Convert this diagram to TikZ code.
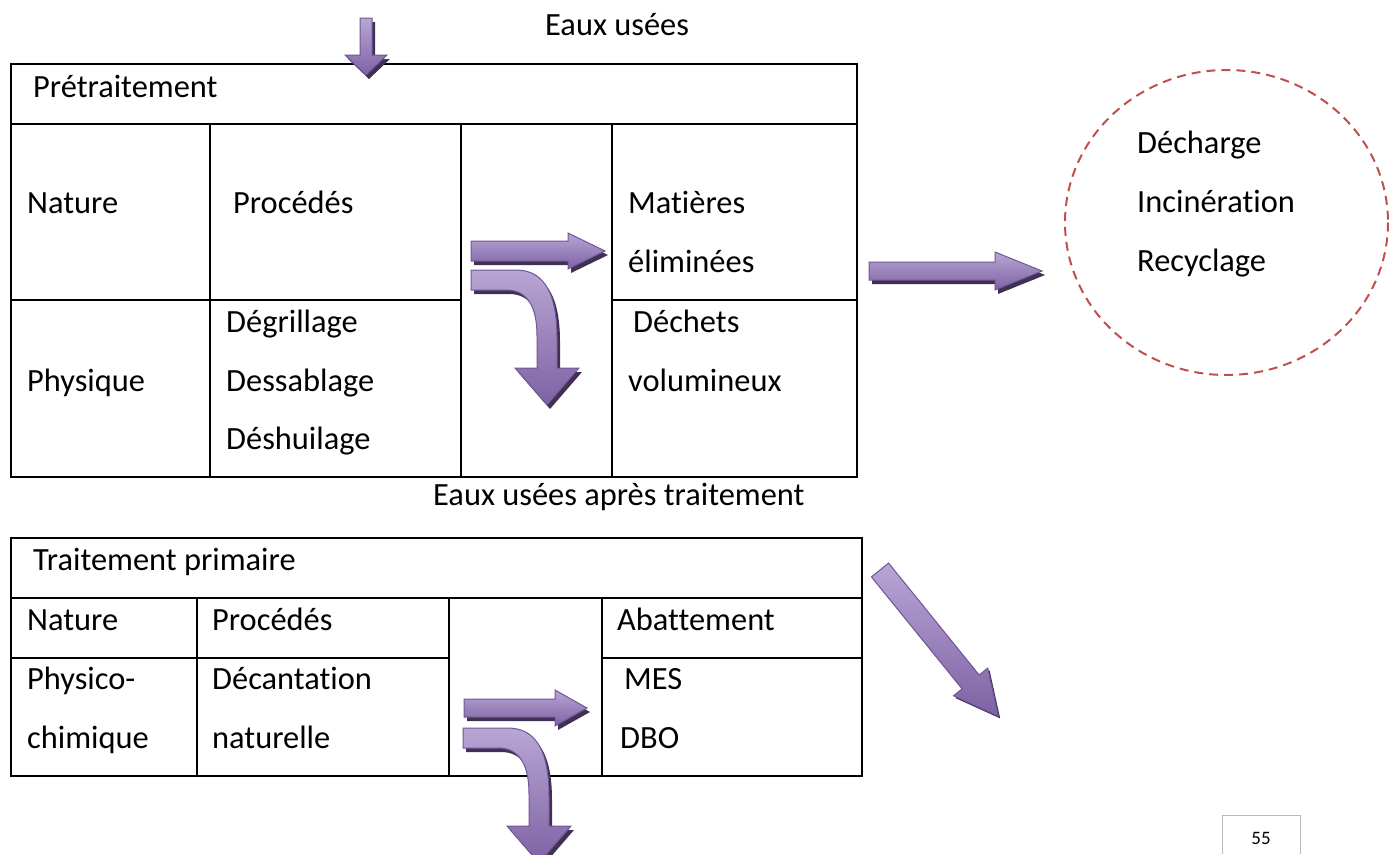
\documentclass[tikz,border=0pt]{standalone}
\usepackage{fontspec}
\setmainfont[Ligatures={NoCommon,NoRare}]{Carlito}
\usetikzlibrary{positioning}

\definecolor{violetclair}{RGB}{184,166,212}
\definecolor{violetfonce}{RGB}{126,98,164}
\definecolor{bordviolet}{RGB}{112,86,152}
\definecolor{ombreviolet}{RGB}{63,49,81}
\definecolor{rougepointille}{RGB}{192,80,77}

\begin{document}
\begin{tikzpicture}[x=1pt,y=-1pt,
    cadre/.style={line width=1.6pt},
    texte/.style={anchor=base west,inner sep=0pt,font=\fontsize{32.4}{38}\selectfont},
    corps/.style={draw=bordviolet,line width=1pt,top color=violetclair,bottom color=violetfonce},
    ombre/.style={fill=ombreviolet},
    decal/.store in=\decalombre, decal={(3,4)},
    pics/fleche/.style n args={4}{code={
      \path[ombre,shift=\decalombre] (0,-#2) -- (#1-#4,-#2) -- (#1-#4,-#3) -- (#1,0) -- (#1-#4,#3) -- (#1-#4,#2) -- (0,#2) -- cycle;
      \path[corps] (0,-#2) -- (#1-#4,-#2) -- (#1-#4,-#3) -- (#1,0) -- (#1-#4,#3) -- (#1-#4,#2) -- (0,#2) -- cycle;
    }},
    pics/coude/.style={code={
      \path[ombre,shift={(3,4)}] (0,0) -- (45,0) .. controls (74,0) and (86,25) .. (86,68) -- (86,98) -- (108,98) -- (76,135) -- (44,98) -- (66,98) -- (66,66) .. controls (66,36) and (56,20) .. (35,20) -- (0,20) -- cycle;
      \path[corps] (0,0) -- (45,0) .. controls (74,0) and (86,25) .. (86,68) -- (86,98) -- (108,98) -- (76,135) -- (44,98) -- (66,98) -- (66,66) .. controls (66,36) and (56,20) .. (35,20) -- (0,20) -- cycle;
    }}]
  \useasboundingbox (0,0) rectangle (1389,854);

  % Pretraitement table
  \draw[cadre] (11,64) rectangle (857,477);
  \draw[cadre] (11,124) -- (857,124);
  \foreach \x in {210,461,612}
    \draw[cadre] (\x,124) -- (\x,477);
  \draw[cadre] (11,300) -- (461,300);
  \draw[cadre] (612,300) -- (857,300);

  \node[texte] (eaux) at (545,35) {Eaux usées};
  \node[texte] (pretrait) at (33,97) {Prétraitement};
  \node[texte] (nature1) at (27,213) {Nature};
  \node[texte] (procedes1) at (233,213) {Procédés};
  \node[texte] (matieres) at (628,213) {Matières};
  \node[texte] (eliminees) at (628,272) {éliminées};
  \node[texte] (physique) at (27,391) {Physique};
  \node[texte] (degrillage) at (226,332) {Dégrillage};
  \node[texte] (dessablage) at (226,391) {Dessablage};
  \node[texte] (deshuilage) at (226,449) {Déshuilage};
  \node[texte] (dechets) at (633,332) {Déchets};
  \node[texte] (volumineux) at (628,391) {volumineux};

  % Destination of eliminated matter
  \draw[rougepointille,line width=2pt,dash pattern=on 9pt off 6pt]
    (1226.5,222.5) ellipse [x radius=161.5,y radius=152.5];
  \node[texte] (decharge) at (1137,153) {Décharge};
  \node[texte] (incineration) at (1137,212) {Incinération};
  \node[texte] (recyclage) at (1137,271) {Recyclage};

  \node[texte] (apres) at (433,505) {Eaux usées après traitement};

  % Traitement primaire table
  \draw[cadre] (11,538) rectangle (862,776);
  \draw[cadre] (11,598) -- (862,598);
  \foreach \x in {197,449,602}
    \draw[cadre] (\x,598) -- (\x,776);
  \draw[cadre] (11,658) -- (449,658);
  \draw[cadre] (602,658) -- (862,658);

  \node[texte] (primaire) at (33,570) {Traitement primaire};
  \node[texte] (nature2) at (27,630) {Nature};
  \node[texte] (procedes2) at (212,630) {Procédés};
  \node[texte] (abattement) at (617,630) {Abattement};
  \node[texte] (physico) at (27,689) {Physico-};
  \node[texte] (chimique) at (27,748) {chimique};
  \node[texte] (decantation) at (212,689) {Décantation};
  \node[texte] (naturelle) at (212,748) {naturelle};
  \node[texte] (mes) at (624,689) {MES};
  \node[texte] (dbo) at (620,748) {DBO};

  % Block arrows
  \pic[rotate=-90,decal={(4,-3)}] at (366,18) {fleche={57}{6}{21}{20}};
  \pic at (471,251) {fleche={134}{10}{18}{37}};
  \pic at (471,270) {coude};
  \pic at (869,271) {fleche={173}{9}{19}{47}};
  \pic[rotate=-51,decal={(3,0)}] at (880,570) {fleche={188}{11}{22}{44}};
  \pic at (464,708) {fleche={123}{9}{18}{32}};
  \pic at (463,728) {coude};

  % Page number
  \draw[gray!55,line width=1pt] (1222,854) -- (1222,815) -- (1300,815) -- (1300,854);
  \node[inner sep=0pt,font=\fontsize{19}{22}\selectfont] (page) at (1261,838) {55};
\end{tikzpicture}
\end{document}
